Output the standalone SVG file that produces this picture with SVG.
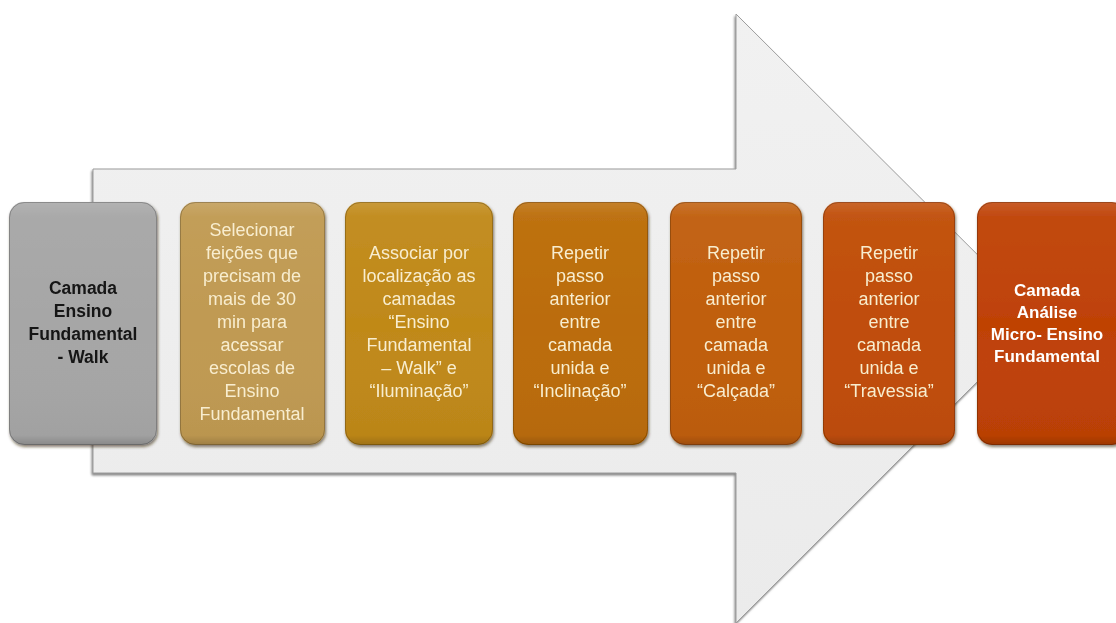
<svg xmlns="http://www.w3.org/2000/svg" width="1116" height="623" viewBox="0 0 1116 623">
  <defs>
    <linearGradient id="sheen" x1="0" y1="0" x2="0" y2="1">
      <stop offset="0" stop-color="#ffffff" stop-opacity="0.14"/>
      <stop offset="0.06" stop-color="#ffffff" stop-opacity="0.04"/>
      <stop offset="0.5" stop-color="#ffffff" stop-opacity="0"/>
      <stop offset="0.96" stop-color="#000000" stop-opacity="0.03"/>
      <stop offset="1" stop-color="#000000" stop-opacity="0.18"/>
    </linearGradient>
    <linearGradient id="arrowFill" x1="0" y1="0" x2="0" y2="1">
      <stop offset="0" stop-color="#f1f1f1"/>
      <stop offset="1" stop-color="#ebebeb"/>
    </linearGradient>
    <filter id="arrowShadow" x="-5%" y="-5%" width="110%" height="110%">
      <feGaussianBlur in="SourceAlpha" stdDeviation="1.2"/>
      <feOffset dx="-1.5" dy="1.5" result="b"/>
      <feFlood flood-color="#6f6f6f" flood-opacity="0.85"/>
      <feComposite in2="b" operator="in"/>
      <feMerge><feMergeNode/><feMergeNode in="SourceGraphic"/></feMerge>
    </filter>
    <filter id="boxShadow" x="-10%" y="-10%" width="120%" height="120%">
      <feGaussianBlur in="SourceAlpha" stdDeviation="1.6"/>
      <feOffset dx="0.5" dy="2" result="b"/>
      <feFlood flood-color="#3a2a10" flood-opacity="0.6"/>
      <feComposite in2="b" operator="in"/>
      <feMerge><feMergeNode/><feMergeNode in="SourceGraphic"/></feMerge>
    </filter>
  </defs>
  <style>
    .box { filter: url(#boxShadow); }
    .edge { fill: none; stroke: #000; stroke-opacity: 0.22; stroke-width: 1; }
    .gloss { fill: url(#sheen); }
    .lbl { font-family: "Liberation Sans", Arial, sans-serif; font-size: 18px; fill: #f8edcf; text-anchor: middle; }
    .dark { font-weight: bold; fill: #151515; font-size: 17.5px; }
    .bold { font-weight: bold; fill: #ffffff; font-size: 17px; }
  </style>

  <rect width="1116" height="623" fill="#ffffff"/>

  <!-- big background arrow -->
  <g id="flow-arrow">
    <polygon points="93,169 736,169 736,14 1041,318 736,623 736,473 93,473" fill="url(#arrowFill)" stroke="#9c9c9c" stroke-width="1" filter="url(#arrowShadow)"/>
  </g>

  <!-- process steps -->
  <g id="node-1" class="box">
    <rect x="9" y="202" width="148" height="243" rx="15" fill="#a6a6a6"/>
    <rect x="9" y="202" width="148" height="243" rx="15" class="gloss"/>
    <rect x="9.5" y="202.5" width="147" height="242" rx="15" class="edge"/>
    <text class="lbl dark" x="83" y="294">Camada</text>
    <text class="lbl dark" x="83" y="317">Ensino</text>
    <text class="lbl dark" x="83" y="340">Fundamental</text>
    <text class="lbl dark" x="83" y="363">- Walk</text>
  </g>

  <g id="node-2" class="box">
    <rect x="180" y="202" width="145" height="243" rx="15" fill="#c09a52"/>
    <rect x="180" y="202" width="145" height="243" rx="15" class="gloss"/>
    <rect x="180.5" y="202.5" width="144" height="242" rx="15" class="edge"/>
    <text class="lbl" x="252" y="236">Selecionar</text>
    <text class="lbl" x="252" y="259">feições que</text>
    <text class="lbl" x="252" y="282">precisam de</text>
    <text class="lbl" x="252" y="305">mais de 30</text>
    <text class="lbl" x="252" y="328">min para</text>
    <text class="lbl" x="252" y="351">acessar</text>
    <text class="lbl" x="252" y="374">escolas de</text>
    <text class="lbl" x="252" y="397">Ensino</text>
    <text class="lbl" x="252" y="420">Fundamental</text>
  </g>

  <g id="node-3" class="box">
    <rect x="345" y="202" width="148" height="243" rx="15" fill="#c08919"/>
    <rect x="345" y="202" width="148" height="243" rx="15" class="gloss"/>
    <rect x="345.5" y="202.5" width="147" height="242" rx="15" class="edge"/>
    <text class="lbl" x="419" y="259">Associar por</text>
    <text class="lbl" x="419" y="282">localização as</text>
    <text class="lbl" x="419" y="305">camadas</text>
    <text class="lbl" x="419" y="328">“Ensino</text>
    <text class="lbl" x="419" y="351">Fundamental</text>
    <text class="lbl" x="419" y="374">– Walk” e</text>
    <text class="lbl" x="419" y="397">“Iluminação”</text>
  </g>

  <g id="node-4" class="box">
    <rect x="513" y="202" width="135" height="243" rx="15" fill="#bb6c08"/>
    <rect x="513" y="202" width="135" height="243" rx="15" class="gloss"/>
    <rect x="513.5" y="202.5" width="134" height="242" rx="15" class="edge"/>
    <text class="lbl" x="580" y="259">Repetir</text>
    <text class="lbl" x="580" y="282">passo</text>
    <text class="lbl" x="580" y="305">anterior</text>
    <text class="lbl" x="580" y="328">entre</text>
    <text class="lbl" x="580" y="351">camada</text>
    <text class="lbl" x="580" y="374">unida e</text>
    <text class="lbl" x="580" y="397">“Inclinação”</text>
  </g>

  <g id="node-5" class="box">
    <rect x="670" y="202" width="132" height="243" rx="15" fill="#c05e0c"/>
    <rect x="670" y="202" width="132" height="243" rx="15" class="gloss"/>
    <rect x="670.5" y="202.5" width="131" height="242" rx="15" class="edge"/>
    <text class="lbl" x="736" y="259">Repetir</text>
    <text class="lbl" x="736" y="282">passo</text>
    <text class="lbl" x="736" y="305">anterior</text>
    <text class="lbl" x="736" y="328">entre</text>
    <text class="lbl" x="736" y="351">camada</text>
    <text class="lbl" x="736" y="374">unida e</text>
    <text class="lbl" x="736" y="397">“Calçada”</text>
  </g>

  <g id="node-6" class="box">
    <rect x="823" y="202" width="132" height="243" rx="15" fill="#c04d08"/>
    <rect x="823" y="202" width="132" height="243" rx="15" class="gloss"/>
    <rect x="823.5" y="202.5" width="131" height="242" rx="15" class="edge"/>
    <text class="lbl" x="889" y="259">Repetir</text>
    <text class="lbl" x="889" y="282">passo</text>
    <text class="lbl" x="889" y="305">anterior</text>
    <text class="lbl" x="889" y="328">entre</text>
    <text class="lbl" x="889" y="351">camada</text>
    <text class="lbl" x="889" y="374">unida e</text>
    <text class="lbl" x="889" y="397">“Travessia”</text>
  </g>

  <g id="node-7" class="box">
    <rect x="977" y="202" width="150" height="243" rx="15" fill="#bf4206"/>
    <rect x="977" y="202" width="150" height="243" rx="15" class="gloss"/>
    <rect x="977.5" y="202.5" width="149" height="242" rx="15" class="edge"/>
    <text class="lbl bold" x="1047" y="296">Camada</text>
    <text class="lbl bold" x="1047" y="318">Análise</text>
    <text class="lbl bold" x="1047" y="340">Micro- Ensino</text>
    <text class="lbl bold" x="1047" y="362">Fundamental</text>
  </g>

  <!-- the steps are linked by the arrow itself; no separate connectors -->
  <g id="connectors"/>
</svg>
